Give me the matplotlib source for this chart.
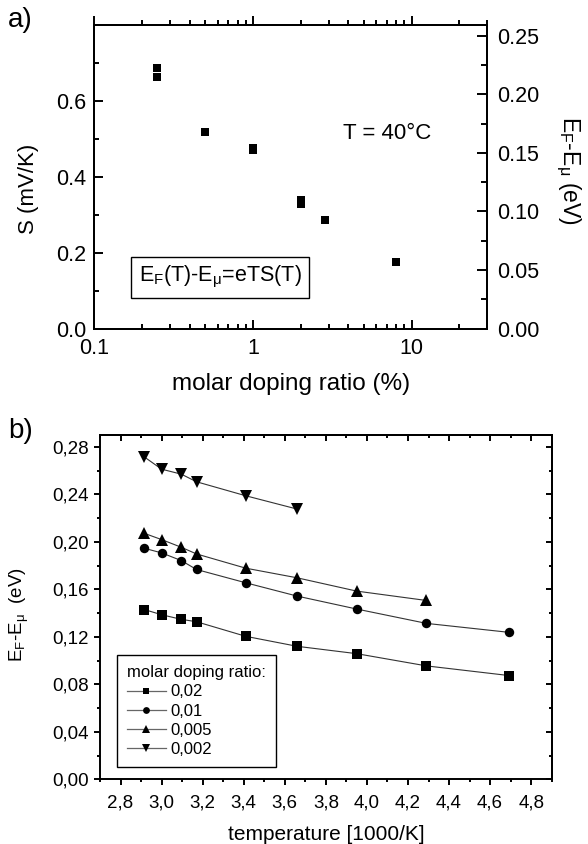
import matplotlib
matplotlib.use("Agg")
import matplotlib.pyplot as plt
from matplotlib.ticker import FixedLocator, FuncFormatter, MultipleLocator, LogLocator, NullFormatter
from matplotlib.lines import Line2D

plt.rcParams['font.family'] = ['Liberation Sans', 'DejaVu Sans']
plt.rcParams['mathtext.fontset'] = 'custom'
plt.rcParams['mathtext.rm'] = 'Liberation Sans'
plt.rcParams['mathtext.it'] = 'Liberation Sans:italic'
plt.rcParams['mathtext.bf'] = 'Liberation Sans:bold'

# ---------------- data: panel a ----------------
a_ratio = [0.25, 0.25, 0.5, 1.0, 1.0, 2.0, 2.0, 2.85, 8.0]          # molar doping ratio (%)
a_S = [0.688, 0.662, 0.518, 0.477, 0.471, 0.338, 0.328, 0.286, 0.176]  # S (mV/K)

# ---------------- data: panel b ----------------
b_T = [2.915, 3.0, 3.096, 3.17, 3.41, 3.66, 3.95, 4.29, 4.69]        # 1000/K
b_002 = [0.1430, 0.1386, 0.1347, 0.1327, 0.1204, 0.1120, 0.1058, 0.0955, 0.0874]
b_001 = [0.1946, 0.1907, 0.1842, 0.1767, 0.1655, 0.1543, 0.1434, 0.1313, 0.1238]
b_0005 = [0.2072, 0.2019, 0.1954, 0.1898, 0.1778, 0.1697, 0.1585, 0.1506]
b_0002 = [0.2716, 0.2612, 0.2570, 0.2506, 0.2388, 0.2276]
b_labels = ['0,02', '0,01', '0,005', '0,002']

fig = plt.figure(figsize=(5.88, 8.44), dpi=100)

# ======================= panel a =======================
axa = fig.add_axes([0.1604, 0.6105, 0.6684, 0.3598])
axa.set_xscale('log')
axa.set_xlim(0.1, 30)
axa.set_ylim(0, 0.8)
axa.plot(a_ratio, a_S, 's', color='black', markersize=6, markeredgewidth=0, linestyle='none')

for s in axa.spines.values():
    s.set_linewidth(1.4)

axa.xaxis.set_major_locator(FixedLocator([0.1, 1, 10]))
axa.xaxis.set_major_formatter(FuncFormatter(lambda v, p: {0.1: '0.1', 1: '1', 10: '10'}.get(round(v, 3), '')))
axa.xaxis.set_minor_locator(LogLocator(base=10, subs=[2, 3, 4, 5, 6, 7, 8, 9]))
axa.xaxis.set_minor_formatter(NullFormatter())
axa.yaxis.set_major_locator(FixedLocator([0.0, 0.2, 0.4, 0.6]))
axa.yaxis.set_minor_locator(FixedLocator([0.1, 0.3, 0.5, 0.7]))
axa.yaxis.set_major_formatter(FuncFormatter(lambda v, p: f"{v:.1f}"))
axa.tick_params(which='both', direction='in', top=False, right=False, labelsize=15.5, width=1.4)
axa.tick_params(which='major', length=6.5)
axa.tick_params(which='minor', length=3.3)
axa.tick_params(axis='x', pad=7)
axa.tick_params(axis='y', pad=6)

topa = axa.secondary_xaxis('top')
topa.xaxis.set_major_locator(FixedLocator([0.1, 1, 10]))
topa.xaxis.set_minor_locator(LogLocator(base=10, subs=[2, 3, 4, 5, 6, 7, 8, 9]))
topa.tick_params(which='both', direction='out', labeltop=False, width=1.4)
topa.tick_params(which='major', length=6.5)
topa.tick_params(which='minor', length=3.3)
topa.spines['top'].set_linewidth(1.4)

axa2 = axa.twinx()
axa2.set_ylim(0, 0.259)
axa2.yaxis.set_major_locator(FixedLocator([0.0, 0.05, 0.10, 0.15, 0.20, 0.25]))
axa2.yaxis.set_minor_locator(FixedLocator([0.025, 0.075, 0.125, 0.175, 0.225]))
axa2.yaxis.set_major_formatter(FuncFormatter(lambda v, p: f"{v:.2f}"))
axa2.tick_params(which='both', direction='in', labelsize=15.5, width=1.4, pad=7)
axa2.tick_params(which='major', length=7)
axa2.tick_params(which='minor', length=4)
for s in axa2.spines.values():
    s.set_linewidth(1.4)

axa.set_xlabel('molar doping ratio (%)', fontsize=17.5)
axa.xaxis.set_label_coords(0.5, -0.146)
axa.set_ylabel('S (mV/K)', fontsize=16)
axa.yaxis.set_label_coords(-0.141, 0.46)
axa2.set_ylabel(r'$\mathregular{E_F}$-$\mathregular{E_\mu}$ (eV)', fontsize=16.5, rotation=270, va='center')
axa2.yaxis.set_label_coords(1.205, 0.52)

axa.text(3.7, 0.514, 'T = 40°C', fontsize=16, ha='left', va='center')
axa.text(0.32, 0.17, r'$\mathregular{E_F(T)}$-$\mathregular{E_\mu}$=eTS(T)', transform=axa.transAxes,
         fontsize=15.5, ha='center', va='center',
         bbox=dict(boxstyle='square,pad=0.35', facecolor='white', edgecolor='black', linewidth=1.0))

fig.text(8 / 588, 1 - 7 / 844, 'a)', fontsize=20, ha='left', va='top')

# ======================= panel b =======================
axb = fig.add_axes([0.1701, 0.0767, 0.7682, 0.4079])
axb.set_xlim(2.7, 4.9)
axb.set_ylim(0, 0.29)

line_kw = dict(color='#333333', linewidth=0.8, markeredgewidth=0, markerfacecolor='black')
series = [(b_T, b_002, 's', 6.5), (b_T, b_001, 'o', 6.8),
          (b_T[:len(b_0005)], b_0005, '^', 8), (b_T[:len(b_0002)], b_0002, 'v', 8.3)]
for (xs, ys, m, ms), lab in zip(series, b_labels):
    axb.plot(xs, ys, marker=m, markersize=ms, label=lab, **line_kw)

for s in axb.spines.values():
    s.set_linewidth(1.4)

axb.xaxis.set_major_locator(MultipleLocator(0.2))
axb.xaxis.set_minor_locator(MultipleLocator(0.1))
axb.yaxis.set_major_locator(MultipleLocator(0.04))
axb.yaxis.set_minor_locator(MultipleLocator(0.02))
axb.xaxis.set_major_formatter(FuncFormatter(lambda v, p: f"{v:.1f}".replace('.', ',')))
axb.yaxis.set_major_formatter(FuncFormatter(lambda v, p: f"{v:.2f}".replace('.', ',')))
axb.tick_params(which='both', direction='out', top=False, right=False, labelsize=13.5, width=1.4)
axb.tick_params(which='major', length=4.2)
axb.tick_params(which='minor', length=2.2)
axb.tick_params(axis='x', pad=7)
axb.tick_params(axis='y', pad=4)

topb = axb.secondary_xaxis('top')
topb.xaxis.set_major_locator(MultipleLocator(0.2))
topb.xaxis.set_minor_locator(MultipleLocator(0.1))
topb.tick_params(which='both', direction='in', labeltop=False, width=1.4)
topb.tick_params(which='major', length=4.5)
topb.tick_params(which='minor', length=2.5)
topb.spines['top'].set_linewidth(1.4)

rightb = axb.secondary_yaxis('right')
rightb.yaxis.set_major_locator(MultipleLocator(0.04))
rightb.yaxis.set_minor_locator(MultipleLocator(0.02))
rightb.tick_params(which='both', direction='in', labelright=False, width=1.4)
rightb.tick_params(which='major', length=4.5)
rightb.tick_params(which='minor', length=2.5)
rightb.spines['right'].set_linewidth(1.4)

axb.set_xlabel('temperature [1000/K]', fontsize=15)
axb.xaxis.set_label_coords(0.5, -0.133)
axb.set_ylabel(r'$\mathregular{E_F}$-$\mathregular{E_\mu}$  (eV)', fontsize=13.5)
axb.yaxis.set_label_coords(-0.152, 0.477)

handles = []
for (xs, ys, m, ms), lab in zip(series, b_labels):
    handles.append(Line2D([], [], color='#666666', linewidth=0.9, marker=m, markersize=ms * 0.72,
                          markerfacecolor='black', markeredgewidth=0, label=lab))
leg = axb.legend(handles=handles, title='molar doping ratio:', loc='lower left',
                 bbox_to_anchor=(0.038, 0.036), borderaxespad=0, fontsize=12, title_fontsize=12,
                 fancybox=False, frameon=True, edgecolor='black', framealpha=1,
                 handlelength=2.3, handletextpad=0.3, labelspacing=0.25, borderpad=0.6,
                 alignment='left')
leg.get_frame().set_linewidth(1.0)

fig.text(8 / 588, 1 - 418 / 844, 'b)', fontsize=20, ha='left', va='top')

fig.savefig('out.png', dpi=100)
